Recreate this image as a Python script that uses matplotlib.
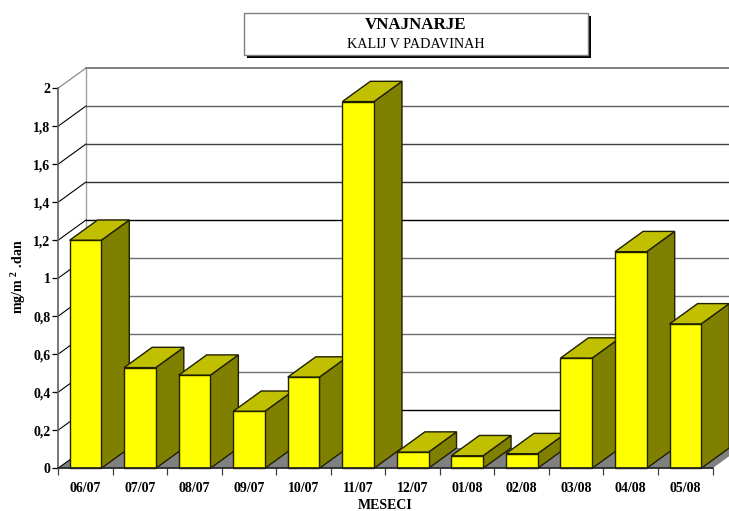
import matplotlib
matplotlib.use("Agg")
import matplotlib.pyplot as plt
from matplotlib.patches import Polygon, Rectangle

plt.rcParams['font.family'] = ['Liberation Serif']
plt.rcParams['mathtext.fontset'] = 'custom'
plt.rcParams['mathtext.bf'] = 'Liberation Serif:bold'
plt.rcParams['mathtext.rm'] = 'Liberation Serif:bold'

months = ['06/07', '07/07', '08/07', '09/07', '10/07', '11/07',
          '12/07', '01/08', '02/08', '03/08', '04/08', '05/08']
values = [1.2, 0.53, 0.49, 0.3, 0.48, 1.93, 0.085, 0.066, 0.077, 0.58, 1.14, 0.76]
y_ticks = [0, 0.2, 0.4, 0.6, 0.8, 1, 1.2, 1.4, 1.6, 1.8, 2]
y_labels = ['0', '0,2', '0,4', '0,6', '0,8', '1', '1,2', '1,4', '1,6', '1,8', '2']
# the scan shows some back gridlines darker than others
grid_colors = ['#000000', '#000000', '#707070', '#707070', '#707070', '#707070',
               '#000000', '#303030', '#404040', '#606060', '#808080']

W, H = 729, 511
fig = plt.figure(figsize=(W / 100, H / 100), dpi=100, facecolor='white')
ax = fig.add_axes([58 / W, 1 - 468.3 / H, 654.5 / W, 380 / H])
ax.set_xlim(0, 12)
ax.set_ylim(0, 2)
ax.patch.set_visible(False)

# depth of the 3d effect in data units
dx = 28 / 54.5
dy = 20.3 / 190.0
bar_left = 0.213
bar_w = 0.58

# side wall and floor
ax.add_patch(Polygon([(0, 0), (dx, dy), (12 + dx, dy), (12, 0)], fc='#808080', ec='none', clip_on=False, zorder=1))
ax.plot([dx, dx], [dy, 2 + dy], color='#a0a0a0', lw=1.0, clip_on=False, zorder=1.5)

for t, c in zip(y_ticks, grid_colors):
    ax.plot([0, dx], [t, t + dy], color='#808080' if t == 2 else 'black', lw=0.8, clip_on=False, zorder=1.5)
    if t > 0:
        ax.plot([dx, 12 + dx], [t + dy, t + dy], color=c, lw=1.4 if t == 2 else 1.0, clip_on=False, zorder=1.5)

# bars, left to right so the right one overlaps
for i, v in enumerate(values):
    x0 = i + bar_left
    x1 = x0 + bar_w
    z = 3 + i * 0.1
    ax.add_patch(Polygon([(x1, 0), (x1 + dx, dy), (x1 + dx, v + dy), (x1, v)], fc='#808000', ec='#202000', lw=1.0, clip_on=False, zorder=z))
    ax.add_patch(Polygon([(x0, v), (x0 + dx, v + dy), (x1 + dx, v + dy), (x1, v)], fc='#c0c000', ec='#202000', lw=1.0, clip_on=False, zorder=z))
    ax.add_patch(Rectangle((x0, 0), bar_w, v, fc='#ffff00', ec='#202000', lw=1.0, clip_on=False, zorder=z))

for s in ['top', 'right']:
    ax.spines[s].set_visible(False)
ax.spines['left'].set_color('#606060')
ax.spines['left'].set_linewidth(1.2)
ax.spines['bottom'].set_color('#202020')
ax.spines['bottom'].set_linewidth(1.2)
ax.spines['left'].set_zorder(6)
ax.spines['bottom'].set_zorder(6)

ax.set_yticks(y_ticks)
ax.set_yticklabels(y_labels, fontsize=10, fontweight='bold')
ax.tick_params(axis='y', length=4, width=0.9, pad=1.5, color='black')
ax.set_xticks(range(13))
ax.set_xticklabels([])
ax.tick_params(axis='x', which='major', length=5, width=0.9, color='#404040')
ax.set_xticks([i + 0.5 for i in range(12)], minor=True)
ax.set_xticklabels(months, minor=True, fontsize=10, fontweight='bold')
ax.tick_params(axis='x', which='minor', length=0, pad=10)

fig.text(19 / W, 1 - 277 / H, r'$\mathbf{mg/m^{\ 2}\ .}\!\mathbf{dan}$', rotation=90, fontsize=10, ha='center', va='center')
fig.text(385 / W, 1 - 505 / H, 'MESECI', fontsize=10, fontweight='bold', ha='center', va='center')

# title box with shadow
fig.add_artist(Rectangle((247 / W, 1 - 58 / H), 344 / W, 42 / H, transform=fig.transFigure, fc='black', ec='none'))
fig.add_artist(Rectangle((244 / W, 1 - 55 / H), 344 / W, 42 / H, transform=fig.transFigure, fc='white', ec='#808080', lw=1))
fig.text(416 / W, 1 - 25 / H, 'VNAJNARJE', fontsize=12.2, fontweight='bold', ha='center', va='center')
fig.text(416 / W, 1 - 44 / H, 'KALIJ V PADAVINAH', fontsize=10.2, ha='center', va='center')

fig.savefig('out.png', dpi=100)
